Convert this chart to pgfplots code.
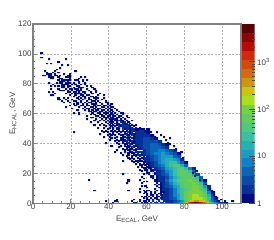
\documentclass[border=0pt]{standalone}
\usepackage{fontspec}
\setmainfont{Liberation Sans}
\usepackage{pgfplots}
\pgfplotsset{compat=1.18}
\definecolor{txt}{HTML}{404040}
\definecolor{frm}{HTML}{808080}
\definecolor{c0}{HTML}{000C80}\definecolor{c1}{HTML}{05309A}\definecolor{c2}{HTML}{0A4AA8}\definecolor{c3}{HTML}{0A65B8}
\definecolor{c4}{HTML}{1080C8}\definecolor{c5}{HTML}{1A9CC8}\definecolor{c6}{HTML}{25B0B5}\definecolor{c7}{HTML}{38C0A0}
\definecolor{c8}{HTML}{50C880}\definecolor{c9}{HTML}{60CC60}\definecolor{c10}{HTML}{78D040}\definecolor{c11}{HTML}{AADF20}
\definecolor{c12}{HTML}{C8C510}\definecolor{c13}{HTML}{CF9510}\definecolor{c14}{HTML}{D46A10}\definecolor{c15}{HTML}{D54A0A}
\definecolor{c16}{HTML}{D02A0A}\definecolor{c17}{HTML}{B50D05}\definecolor{c18}{HTML}{8A0505}\definecolor{c19}{HTML}{5A0000}
\pgfplotsset{
 colormap={bb}{color=(c0) color=(c1) color=(c2) color=(c3) color=(c4) color=(c5) color=(c6) color=(c7) color=(c8) color=(c9) color=(c10) color=(c11) color=(c12) color=(c13) color=(c14) color=(c15) color=(c16) color=(c17) color=(c18) color=(c19)},
 cell/.style={scatter,only marks,point meta=explicit,mark=square*,mark size=#1,
   scatter/use mapped color={draw=mapped color,fill=mapped color},
   mark options={xscale=1.27,line width=0.01pt}},
}
\begin{document}
\begin{tikzpicture}[x=1pt,y=1pt]
\path[use as bounding box] (0,0) rectangle (274,240);
\begin{axis}[at={(33pt,36.7pt)},anchor=south west,scale only axis,width=208pt,height=179.3pt,
 xmin=0,xmax=110,ymin=0,ymax=120,
 xtick={0,20,...,100},ytick={0,20,...,120},minor x tick num=3,minor y tick num=3,
 tick pos=left,tick align=inside,
 major tick length=4pt,minor tick length=2pt,
 every tick/.style={frm,line width=.7pt},
 axis line style={frm,line width=1.2pt},
 grid=major,grid style={gray!60,line width=.6pt,dash pattern=on 2pt off 1.5pt},
 axis on top,
 point meta min=0,point meta max=19,
 tick label style={font=\fontsize{8}{9}\selectfont,text=txt},
 /pgf/number format/assume math mode=true,
 xticklabel style={yshift=2.5pt},yticklabel style={xshift=2pt},
 label style={font=\fontsize{8}{9}\selectfont,text=txt},
 xlabel={E\textsubscript{ECAL}, GeV},ylabel={E\textsubscript{HCAL}, GeV},
 xlabel style={at={(axis description cs:0.5,0)},anchor=center,yshift=-16pt},
 ylabel style={at={(axis description cs:0,0.5)},anchor=center,yshift=20pt},
]
\addplot[cell=1.6pt,x filter/.expression={x+1},y filter/.expression={y+1}] coordinates {
(54,48)[0](56,48)[1](60,48)[0]
(54,46)[1](56,46)[1](58,46)[1](60,46)[0]
(54,44)[1](56,44)[1](58,44)[1](60,44)[1](62,44)[0]
(54,42)[1](56,42)[1](58,42)[2](60,42)[2](62,42)[1](64,42)[0]
(54,40)[1](56,40)[1](58,40)[2](60,40)[2](62,40)[2](64,40)[2](66,40)[1]
(56,38)[1](58,38)[2](60,38)[2](62,38)[3](64,38)[3](66,38)[2](68,38)[1](70,38)[0]
(56,36)[1](58,36)[2](60,36)[2](62,36)[3](64,36)[3](66,36)[3](68,36)[2](70,36)[1]
(58,34)[1](60,34)[2](62,34)[3](64,34)[3](66,34)[4](68,34)[4](70,34)[3](72,34)[2](74,34)[1]
(58,32)[1](60,32)[2](62,32)[3](64,32)[4](66,32)[4](68,32)[5](70,32)[4](72,32)[3](74,32)[2](76,32)[0]
(60,30)[1](62,30)[2](64,30)[3](66,30)[4](68,30)[5](70,30)[5](72,30)[5](74,30)[3](76,30)[2]
(60,28)[1](62,28)[2](64,28)[3](66,28)[4](68,28)[5](70,28)[6](72,28)[6](74,28)[5](76,28)[4](78,28)[1]
(62,26)[1](64,26)[2](66,26)[4](68,26)[5](70,26)[6](72,26)[7](74,26)[7](76,26)[5](78,26)[3](80,26)[0]
(62,24)[1](64,24)[2](66,24)[3](68,24)[4](70,24)[6](72,24)[7](74,24)[8](76,24)[8](78,24)[6](80,24)[3]
(64,22)[1](66,22)[2](68,22)[3](70,22)[5](72,22)[6](74,22)[7](76,22)[8](78,22)[9](80,22)[7](82,22)[4](84,22)[1]
(66,20)[1](68,20)[2](70,20)[4](72,20)[5](74,20)[7](76,20)[8](78,20)[9](80,20)[9](82,20)[7](84,20)[3]
(66,18)[1](68,18)[2](70,18)[3](72,18)[5](74,18)[7](76,18)[8](78,18)[9](80,18)[9](82,18)[9](84,18)[6](86,18)[2]
(66,16)[1](68,16)[1](70,16)[2](72,16)[4](74,16)[6](76,16)[7](78,16)[8](80,16)[9](82,16)[9](84,16)[9](86,16)[7](88,16)[3]
(66,14)[1](68,14)[1](70,14)[3](72,14)[5](74,14)[7](76,14)[8](78,14)[9](80,14)[9](82,14)[10](84,14)[9](86,14)[8](88,14)[4](90,14)[0]
(68,12)[1](70,12)[2](72,12)[4](74,12)[6](76,12)[7](78,12)[8](80,12)[9](82,12)[9](84,12)[10](86,12)[9](88,12)[7](90,12)[3]
(68,10)[1](70,10)[2](72,10)[3](74,10)[5](76,10)[6](78,10)[8](80,10)[9](82,10)[9](84,10)[10](86,10)[10](88,10)[8](90,10)[5](92,10)[1]
(68,8)[1](70,8)[1](72,8)[2](74,8)[4](76,8)[6](78,8)[7](80,8)[8](82,8)[9](84,8)[10](86,8)[10](88,8)[9](90,8)[7](92,8)[2]
(70,6)[1](72,6)[2](74,6)[4](76,6)[6](78,6)[7](80,6)[9](82,6)[10](84,6)[10](86,6)[10](88,6)[10](90,6)[8](92,6)[4](94,6)[0]
(70,4)[1](72,4)[2](74,4)[4](76,4)[5](78,4)[7](80,4)[9](82,4)[10](84,4)[11](86,4)[11](88,4)[10](90,4)[9](92,4)[6](94,4)[2]
(70,2)[1](72,2)[2](74,2)[3](76,2)[5](78,2)[7](80,2)[9](82,2)[10](84,2)[11](86,2)[11](88,2)[11](90,2)[10](92,2)[7](94,2)[3](96,2)[1]
};
\addplot[cell=0.85pt,x filter/.expression={x+0.5},y filter/.expression={y+0.5}] coordinates {
(4,100)[0](4,97)[0](8,96)[0](17,96)[0](13,94)[0](7,93)[0](9,93)[0](15,92)[0](18,92)[0](14,90)[0](12,89)[0](6,88)[0](11,88)[0](22,88)[0]
(7,87)[0](10,87)[0](13,87)[0](7,86)[0](8,86)[0](9,86)[0](11,86)[0](16,86)[0](19,86)[0](5,85)[0](6,85)[0](8,85)[0](9,85)[0](11,85)[0](12,85)[0](14,85)[0](18,85)[0](19,85)[0]
(8,84)[0](9,84)[0](10,84)[0](13,84)[0](17,84)[0](18,84)[0](19,84)[0](25,84)[0](27,84)[0](9,83)[0](10,83)[0](14,83)[0](15,83)[0](19,83)[0](24,83)[0]
(13,82)[0](15,82)[0](16,82)[0](17,82)[0](18,82)[0](19,82)[0](22,82)[0](23,82)[0](26,82)[0](28,82)[0](14,81)[0](15,81)[0](16,81)[0](18,81)[0](24,81)[0](26,81)[0]
(8,80)[0](12,80)[0](14,80)[0](15,80)[0](17,80)[0](18,80)[0](19,80)[0](21,80)[0](24,80)[0](27,80)[0](10,79)[0](15,79)[0](16,79)[0](17,79)[0](18,79)[0](20,79)[0](22,79)[0](25,79)[0](27,79)[0]
(9,78)[0](11,78)[0](13,78)[0](15,78)[0](16,78)[0](18,78)[0](19,78)[0](23,78)[0](24,78)[0](28,78)[0](30,78)[0](15,77)[0](16,77)[0](18,77)[0](21,77)[0](24,77)[0](25,77)[0](26,77)[0](31,77)[0]
(9,76)[0](13,76)[0](17,76)[0](19,76)[0](20,76)[0](22,76)[0](23,76)[0](25,76)[0](28,76)[0](32,76)[0](14,75)[0](15,75)[0](16,75)[0](18,75)[0](20,75)[0](23,75)[0](24,75)[0](25,75)[0](29,75)[0](33,75)[0]
(8,74)[0](10,74)[0](18,74)[0](19,74)[0](21,74)[0](22,74)[0](24,74)[0](26,74)[0](27,74)[0](30,74)[0](33,74)[0](11,73)[0](17,73)[0](20,73)[0](22,73)[0](23,73)[0](24,73)[0](25,73)[0](27,73)[0](31,73)[0](35,73)[0]
(9,72)[0](10,72)[0](19,72)[0](22,72)[0](25,72)[0](26,72)[0](28,72)[0](29,72)[0](34,72)[0](37,72)[0](21,71)[0](24,71)[0](26,71)[0](27,71)[0](30,71)[0](31,71)[0](33,71)[0]
(13,70)[0](16,70)[0](18,70)[0](23,70)[0](25,70)[0](27,70)[0](29,70)[0](32,70)[0](33,70)[0](34,70)[0](37,70)[0](13,69)[0](14,69)[0](17,69)[0](20,69)[0](24,69)[0](26,69)[0](29,69)[0](30,69)[0](33,69)[0](36,69)[0]
(15,68)[0](18,68)[0](21,68)[0](22,68)[0](25,68)[0](28,68)[0](31,68)[0](32,68)[0](34,68)[0](38,68)[0](16,67)[0](19,67)[0](23,67)[0](25,67)[0](27,67)[0](29,67)[0](30,67)[0](33,67)[0](35,67)[0](38,67)[0](39,67)[0]
(21,66)[0](23,66)[0](26,66)[0](28,66)[0](31,66)[0](32,66)[0](33,66)[0](36,66)[0](39,66)[0](41,66)[0](19,65)[0](22,65)[0](25,65)[0](26,65)[0](28,65)[0](29,65)[0](32,65)[0](34,65)[0](35,65)[0](37,65)[0](38,65)[0](40,65)[0]
(17,64)[0](24,64)[0](27,64)[0](30,64)[0](31,64)[0](33,64)[0](36,64)[0](37,64)[0](39,64)[0](41,64)[0](42,64)[0](20,63)[0](26,63)[0](28,63)[0](29,63)[0](32,63)[0](34,63)[0](35,63)[0](38,63)[0](40,63)[0](43,63)[0]
(23,62)[0](27,62)[0](29,62)[0](31,62)[0](33,62)[0](34,62)[0](36,62)[0](37,62)[0](39,62)[0](41,62)[0](44,62)[0](29,61)[0](30,61)[0](32,61)[0](33,61)[0](35,61)[0](36,61)[0](38,61)[0](40,61)[0](42,61)[0](45,61)[0]
(21,60)[0](24,60)[0](31,60)[0](34,60)[0](35,60)[0](37,60)[0](38,60)[0](39,60)[0](41,60)[0](43,60)[0](46,60)[0](47,60)[0](24,59)[0](30,59)[0](32,59)[0](35,59)[0](36,59)[0](38,59)[0](40,59)[0](41,59)[0](42,59)[0](44,59)[0](47,59)[0]
(28,58)[0](33,58)[0](34,58)[0](36,58)[0](37,58)[0](39,58)[0](40,58)[0](42,58)[0](43,58)[0](45,58)[0](46,58)[0](49,58)[0](30,57)[0](31,57)[0](35,57)[0](37,57)[0](38,57)[0](39,57)[0](41,57)[0](42,57)[0](44,57)[0](45,57)[0](47,57)[0](50,57)[0]
(28,56)[0](33,56)[0](36,56)[0](38,56)[0](40,56)[0](41,56)[0](42,56)[0](43,56)[0](44,56)[0](46,56)[0](48,56)[0](32,55)[0](35,55)[0](37,55)[0](39,55)[0](41,55)[0](43,55)[0](44,55)[0](45,55)[1](46,55)[0](47,55)[0](49,55)[0](52,55)[0]
(30,54)[0](34,54)[0](38,54)[0](40,54)[0](41,54)[0](42,54)[0](44,54)[0](46,54)[1](47,54)[0](48,54)[1](50,54)[0](36,53)[0](39,53)[0](41,53)[0](43,53)[0](44,53)[0](45,53)[1](47,53)[1](48,53)[0](49,53)[1](51,53)[0]
(32,52)[0](35,52)[0](37,52)[0](40,52)[0](42,52)[0](44,52)[0](45,52)[0](46,52)[1](47,52)[1](48,52)[1](49,52)[0](50,52)[1](52,52)[0](54,52)[0](38,51)[0](41,51)[0](43,51)[0](45,51)[1](46,51)[0](47,51)[1](48,51)[1](49,51)[1](50,51)[1](51,51)[0](53,51)[0]
(34,50)[0](37,50)[0](40,50)[0](42,50)[0](44,50)[0](45,50)[1](47,50)[1](48,50)[1](49,50)[1](50,50)[1](51,50)[1](52,50)[0](54,50)[1](56,50)[0]
(39,49)[0](42,49)[0](44,49)[0](45,49)[0](47,49)[1](48,49)[0](49,49)[1](50,49)[1](51,49)[0](52,49)[1](53,49)[1](54,49)[0](55,49)[0](57,49)[0](58,49)[0]
(36,48)[0](38,48)[0](41,48)[0](43,48)[0](45,48)[0](47,48)[0](49,48)[0](51,48)[0](52,48)[1](53,48)[0](58,48)[1](59,48)[0](21,47)[0](37,47)[0](39,47)[0](42,47)[0](44,47)[0](46,47)[0](48,47)[0](50,47)[1](51,47)[0](52,47)[1](62,47)[0](65,47)[0](35,46)[0](40,46)[0](42,46)[0](45,46)[0](48,46)[0](49,46)[1](51,46)[0](52,46)[1](53,46)[0]
(39,45)[0](41,45)[0](43,45)[0](46,45)[0](47,45)[0](49,45)[1](50,45)[0](52,45)[1](53,45)[0](63,45)[0](67,45)[0](37,44)[0](40,44)[0](44,44)[0](47,44)[0](48,44)[0](50,44)[1](51,44)[1](53,44)[0](64,44)[0](69,44)[0](41,43)[0](43,43)[0](46,43)[0](47,43)[0](49,43)[1](50,43)[0](52,43)[1](53,43)[0](72,43)[0](40,42)[0](44,42)[0](46,42)[0](47,42)[0](48,42)[0](50,42)[1](51,42)[0](53,42)[1](70,42)[0](43,41)[0](45,41)[0](47,41)[0](48,41)[0](49,41)[1](51,41)[0](52,41)[1](53,41)[0]
(38,40)[0](44,40)[0](47,40)[0](49,40)[0](50,40)[1](52,40)[1](53,40)[0](71,40)[0](45,39)[0](48,39)[0](49,39)[0](51,39)[1](52,39)[0](54,39)[1](55,39)[1](72,39)[0](41,38)[0](46,38)[0](48,38)[0](50,38)[0](51,38)[1](53,38)[1](54,38)[0](55,38)[1](74,38)[0](45,37)[0](49,37)[0](50,37)[0](52,37)[1](53,37)[1](55,37)[0](47,36)[0](49,36)[0](51,36)[0](52,36)[0](54,36)[1](55,36)[1](75,36)[0](44,35)[0](48,35)[0](50,35)[0](51,35)[0](53,35)[1](54,35)[0](43,34)[0](48,34)[0](51,34)[0](52,34)[0](54,34)[1](55,34)[1](56,34)[1](57,34)[1](78,34)[0]
(46,33)[0](50,33)[0](52,33)[0](53,33)[0](55,33)[1](57,33)[1](47,32)[0](50,32)[0](53,32)[0](54,32)[0](55,32)[1](56,32)[1](57,32)[0](49,31)[0](52,31)[0](54,31)[0](56,31)[1](58,31)[1](50,30)[0](52,30)[0](55,30)[0](57,30)[0](58,30)[1](59,30)[1](79,30)[0](51,29)[0](53,29)[0](56,29)[0](58,29)[0](59,29)[1](47,28)[0](52,28)[0](54,28)[0](55,28)[0](56,28)[0](57,28)[0](59,28)[1](53,27)[0](55,27)[0](58,27)[0](59,27)[0](60,27)[1](61,27)[0](54,26)[0](56,26)[0](58,26)[0](60,26)[0](61,26)[0](56,25)[0](57,25)[0](59,25)[0](61,25)[0](55,24)[0](57,24)[0](60,24)[0](61,24)[0]
(58,23)[0](59,23)[0](61,23)[0](62,23)[0](56,22)[0](59,22)[0](60,22)[0](62,22)[0](63,22)[0](57,21)[0](60,21)[0](62,21)[0](63,21)[0](65,21)[0](60,20)[0](61,20)[0](64,20)[0](65,20)[1](84,20)[0](86,21)[0](47,19)[0](58,19)[0](61,19)[0](64,19)[0](65,19)[1](62,18)[0](63,18)[0](65,18)[0](85,18)[0](57,17)[0](62,17)[0](63,17)[0](65,17)[0](58,16)[0](63,16)[0](65,16)[0]
(29,15)[0](50,15)[0](56,15)[0](64,15)[0](65,15)[0](88,15)[0](50,14)[0](58,14)[0](60,14)[0](64,14)[0](65,14)[0](49,13)[0](57,13)[0](65,13)[0](67,13)[0](64,12)[0](66,12)[0](67,12)[0](91,12)[0](57,11)[0](59,11)[0](65,11)[0](67,11)[0](60,10)[0](66,10)[0](67,10)[0](92,10)[0](56,9)[0](64,9)[0](67,9)[0](93,9)[0]
(32,8)[0](50,8)[0](58,8)[0](60,8)[0](61,8)[0](65,8)[0](67,8)[0](94,8)[0](56,7)[0](59,7)[0](62,7)[0](64,7)[0](67,7)[0](68,7)[0](69,7)[0](58,6)[0](60,6)[0](62,6)[0](64,6)[0](66,6)[0](67,6)[0](69,6)[1](60,5)[0](62,5)[0](63,5)[0](65,5)[0](67,5)[1](68,5)[0](69,5)[1](95,5)[0](57,4)[0](59,4)[0](61,4)[0](63,4)[0](65,4)[0](66,4)[0](68,4)[1](69,4)[1](96,4)[0](58,3)[0](60,3)[0](62,3)[0](64,3)[0](65,3)[0](67,3)[1](68,3)[0](69,3)[1](97,3)[0]
(44,2)[0](53,2)[0](56,2)[0](60,2)[0](61,2)[0](63,2)[0](65,2)[0](66,2)[1](68,2)[1](69,2)[1](99,2)[0](38,1)[0](43,1)[0](44,1)[0](52,1)[0](56,1)[0](58,1)[0](59,1)[0](61,1)[0](63,1)[1](66,1)[1](69,1)[1](70,1)[1](71,1)[1]
(42,0)[0](53,0)[0](54,0)[0](57,0)[0](59,0)[0](60,0)[0](62,0)[1](64,0)[1](65,0)[1](67,0)[1](68,0)[2](70,0)[2](71,0)[1](101,1)[0](105,1)[0]
(72,1)[1](73,1)[1](74,1)[2](75,1)[2](76,1)[3](77,1)[3](78,1)[4](79,1)[5](80,1)[7](81,1)[9](82,1)[10](83,1)[12](84,1)[12](85,1)[13](86,1)[13](87,1)[13](88,1)[12](89,1)[12](90,1)[11](91,1)[10](92,1)[8](93,1)[6](94,1)[4](95,1)[3](96,1)[2](97,1)[1](98,1)[0]
(72,0)[1](73,0)[1](74,0)[2](75,0)[3](76,0)[3](77,0)[4](78,0)[5](79,0)[6](80,0)[9](81,0)[12](82,0)[15](83,0)[17](84,0)[18](85,0)[19](86,0)[19](87,0)[18](88,0)[17](89,0)[16](90,0)[15](91,0)[13](92,0)[11](93,0)[9](94,0)[7](95,0)[5](96,0)[4](97,0)[3](98,0)[2](99,0)[1](100,0)[1](101,0)[0](102,0)[0]
};
\end{axis}
\begin{axis}[at={(242pt,36.7pt)},anchor=south west,scale only axis,width=12.7pt,height=179.3pt,
 xmin=0,xmax=1,ymin=0,ymax=3.8,
 xtick=\empty,ytick={0,1,2,3},yticklabels={1,10,10\textsuperscript{2},10\textsuperscript{3}},
 minor ytick={.301,.477,.602,.699,.778,.845,.903,.954,1.301,1.477,1.602,1.699,1.778,1.845,1.903,1.954,2.301,2.477,2.602,2.699,2.778,2.845,2.903,2.954,3.301,3.477,3.602},
 axis y line*=right,axis x line=none,
 y axis line style={draw=none},
 tick align=inside,
 major tick length=6pt,minor tick length=3pt,
 every tick/.style={black!70,line width=.5pt},
 axis on top,
 tick label style={font=\fontsize{8}{9}\selectfont,text=txt},
 yticklabel style={xshift=-1pt},
]
\addplot[fill=c0,draw=none] coordinates {(0,0)(1,0)(1,.19)(0,.19)};
\addplot[fill=c1,draw=none] coordinates {(0,.19)(1,.19)(1,.38)(0,.38)};
\addplot[fill=c2,draw=none] coordinates {(0,.38)(1,.38)(1,.57)(0,.57)};
\addplot[fill=c3,draw=none] coordinates {(0,.57)(1,.57)(1,.76)(0,.76)};
\addplot[fill=c4,draw=none] coordinates {(0,.76)(1,.76)(1,.95)(0,.95)};
\addplot[fill=c5,draw=none] coordinates {(0,.95)(1,.95)(1,1.14)(0,1.14)};
\addplot[fill=c6,draw=none] coordinates {(0,1.14)(1,1.14)(1,1.33)(0,1.33)};
\addplot[fill=c7,draw=none] coordinates {(0,1.33)(1,1.33)(1,1.52)(0,1.52)};
\addplot[fill=c8,draw=none] coordinates {(0,1.52)(1,1.52)(1,1.71)(0,1.71)};
\addplot[fill=c9,draw=none] coordinates {(0,1.71)(1,1.71)(1,1.90)(0,1.90)};
\addplot[fill=c10,draw=none] coordinates {(0,1.90)(1,1.90)(1,2.09)(0,2.09)};
\addplot[fill=c11,draw=none] coordinates {(0,2.09)(1,2.09)(1,2.28)(0,2.28)};
\addplot[fill=c12,draw=none] coordinates {(0,2.28)(1,2.28)(1,2.47)(0,2.47)};
\addplot[fill=c13,draw=none] coordinates {(0,2.47)(1,2.47)(1,2.66)(0,2.66)};
\addplot[fill=c14,draw=none] coordinates {(0,2.66)(1,2.66)(1,2.85)(0,2.85)};
\addplot[fill=c15,draw=none] coordinates {(0,2.85)(1,2.85)(1,3.04)(0,3.04)};
\addplot[fill=c16,draw=none] coordinates {(0,3.04)(1,3.04)(1,3.23)(0,3.23)};
\addplot[fill=c17,draw=none] coordinates {(0,3.23)(1,3.23)(1,3.42)(0,3.42)};
\addplot[fill=c18,draw=none] coordinates {(0,3.42)(1,3.42)(1,3.61)(0,3.61)};
\addplot[fill=c19,draw=none] coordinates {(0,3.61)(1,3.61)(1,3.80)(0,3.80)};
\end{axis}
\end{tikzpicture}
\end{document}
